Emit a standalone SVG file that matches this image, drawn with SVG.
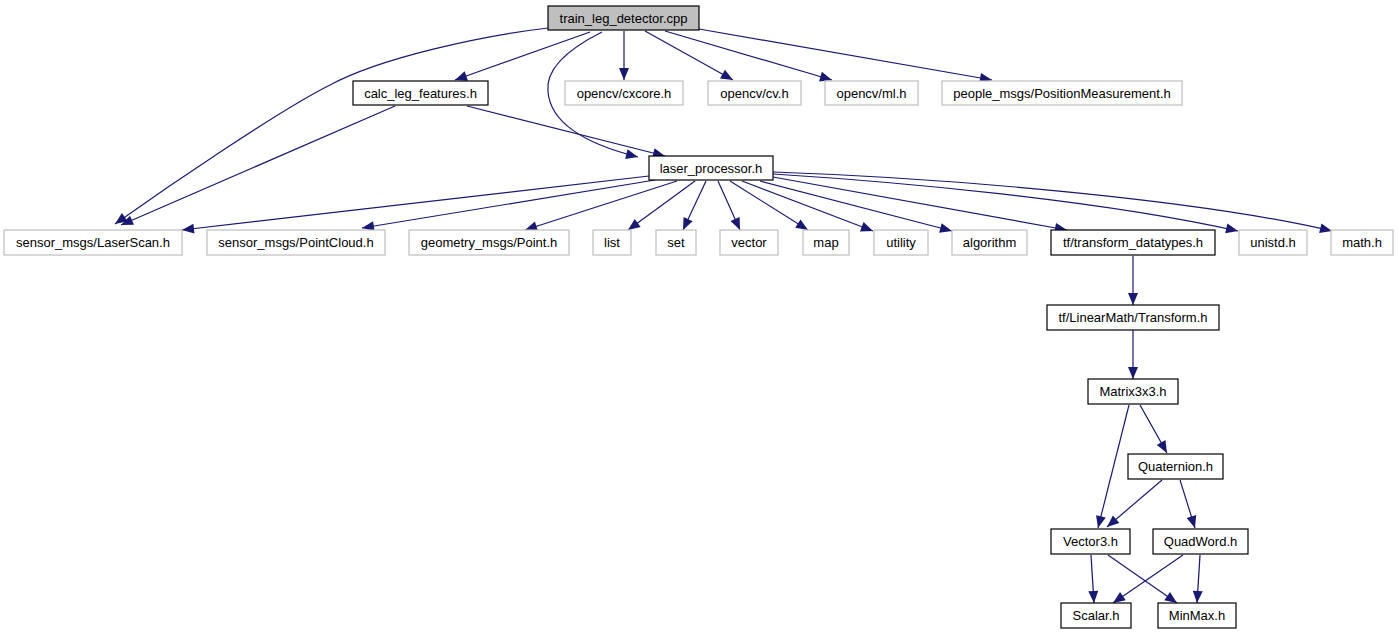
<svg xmlns="http://www.w3.org/2000/svg" width="1399" height="635" viewBox="0 0 1399 635">
<style>
.n rect{fill:#fff;stroke:#000;stroke-width:1.2}
.g rect{fill:#fff;stroke:#bfbfbf;stroke-width:1.2}
.top rect{fill:#bfbfbf;stroke:#000;stroke-width:1.2}
text{font-family:"Liberation Sans",Arial,sans-serif;font-size:13px;fill:#000;text-anchor:middle}
#edges path{fill:none;stroke:#191970;stroke-width:1.2;marker-end:url(#ah)}
</style>
<defs>
<marker id="ah" markerUnits="userSpaceOnUse" markerWidth="12" markerHeight="10" refX="12" refY="5" orient="auto" overflow="visible">
<path d="M0,0 L12,5 L0,10 z" fill="#191970"/>
</marker>
</defs>
<rect width="1399" height="635" fill="#fff"/>
<g id="edges">
<path d="M548,28 C480,36 380,58 330,85 C280,110 170,185 115,224"/>
<path d="M590,32 L455,80"/>
<path d="M602,32 C570,48 545,68 548,92 C551,125 590,145 638,157"/>
<path d="M624,31 L624,80"/>
<path d="M645,31 L733,80"/>
<path d="M665,31 L832,80"/>
<path d="M699,29 L992,80"/>
<path d="M395,106 L121,225"/>
<path d="M467,106 L665,156"/>
<path d="M649,176 L182,230"/>
<path d="M655,180 L362,228"/>
<path d="M677,181 L525,230"/>
<path d="M695,181 L628,230"/>
<path d="M706,181 L683,230"/>
<path d="M718,181 L740,230"/>
<path d="M730,181 L808,230"/>
<path d="M742,181 L873,231"/>
<path d="M760,181 L952,231"/>
<path d="M773,177 L1067,230"/>
<path d="M773,174 C900,182 1100,200 1238,231"/>
<path d="M773,172 C950,178 1200,200 1332,231"/>
<path d="M1133,256 L1133,305"/>
<path d="M1133,330 L1133,379"/>
<path d="M1129,405 L1098,528"/>
<path d="M1140,405 L1167,453"/>
<path d="M1162,480 L1107,527"/>
<path d="M1180,480 L1195,528"/>
<path d="M1091,555 L1094,603"/>
<path d="M1108,555 L1177,603"/>
<path d="M1183,555 L1113,603"/>
<path d="M1200,555 L1197,603"/>
</g>
<g id="train_leg_detector" class="top"><rect x="548" y="6" width="151" height="24"/><text x="623.5" y="22.5">train_leg_detector.cpp</text></g>
<g id="calc_leg_features" class="n"><rect x="353" y="81" width="135" height="24"/><text x="420.5" y="97.5">calc_leg_features.h</text></g>
<g id="cxcore" class="g"><rect x="565" y="81" width="118" height="24"/><text x="624" y="97.5">opencv/cxcore.h</text></g>
<g id="cv" class="g"><rect x="708" y="81" width="93" height="24"/><text x="754.5" y="97.5">opencv/cv.h</text></g>
<g id="ml" class="g"><rect x="825" y="81" width="93" height="24"/><text x="871.5" y="97.5">opencv/ml.h</text></g>
<g id="people" class="g"><rect x="942" y="81" width="240" height="24"/><text x="1062" y="97.5">people_msgs/PositionMeasurement.h</text></g>
<g id="laser_processor" class="n"><rect x="649" y="156" width="124" height="24"/><text x="711" y="172.5">laser_processor.h</text></g>
<g id="laserscan" class="g"><rect x="4" y="230" width="178" height="25"/><text x="93" y="247">sensor_msgs/LaserScan.h</text></g>
<g id="pointcloud" class="g"><rect x="207" y="230" width="178" height="25"/><text x="296" y="247">sensor_msgs/PointCloud.h</text></g>
<g id="point" class="g"><rect x="409" y="230" width="160" height="25"/><text x="489" y="247">geometry_msgs/Point.h</text></g>
<g id="list" class="g"><rect x="593" y="230" width="38" height="25"/><text x="612" y="247">list</text></g>
<g id="set" class="g"><rect x="656" y="230" width="40" height="25"/><text x="676" y="247">set</text></g>
<g id="vector" class="g"><rect x="720" y="230" width="58" height="25"/><text x="749" y="247">vector</text></g>
<g id="map" class="g"><rect x="803" y="230" width="46" height="25"/><text x="826" y="247">map</text></g>
<g id="utility" class="g"><rect x="874" y="230" width="54" height="25"/><text x="901" y="247">utility</text></g>
<g id="algorithm" class="g"><rect x="952" y="230" width="75" height="25"/><text x="989.5" y="247">algorithm</text></g>
<g id="transform_datatypes" class="n"><rect x="1051" y="230" width="164" height="25"/><text x="1133" y="247">tf/transform_datatypes.h</text></g>
<g id="unistd" class="g"><rect x="1239" y="230" width="68" height="25"/><text x="1273" y="247">unistd.h</text></g>
<g id="math" class="g"><rect x="1331" y="230" width="62" height="25"/><text x="1362" y="247">math.h</text></g>
<g id="transform" class="n"><rect x="1047" y="305" width="172" height="25"/><text x="1133" y="322">tf/LinearMath/Transform.h</text></g>
<g id="matrix3x3" class="n"><rect x="1088" y="379" width="90" height="25"/><text x="1133" y="396">Matrix3x3.h</text></g>
<g id="quaternion" class="n"><rect x="1128" y="454" width="95" height="25"/><text x="1175.5" y="471">Quaternion.h</text></g>
<g id="vector3" class="n"><rect x="1051" y="529" width="79" height="25"/><text x="1090.5" y="546">Vector3.h</text></g>
<g id="quadword" class="n"><rect x="1153" y="529" width="95" height="25"/><text x="1200.5" y="546">QuadWord.h</text></g>
<g id="scalar" class="n"><rect x="1061" y="603" width="70" height="25"/><text x="1096" y="620">Scalar.h</text></g>
<g id="minmax" class="n"><rect x="1158" y="603" width="78" height="25"/><text x="1197" y="620">MinMax.h</text></g>
</svg>
